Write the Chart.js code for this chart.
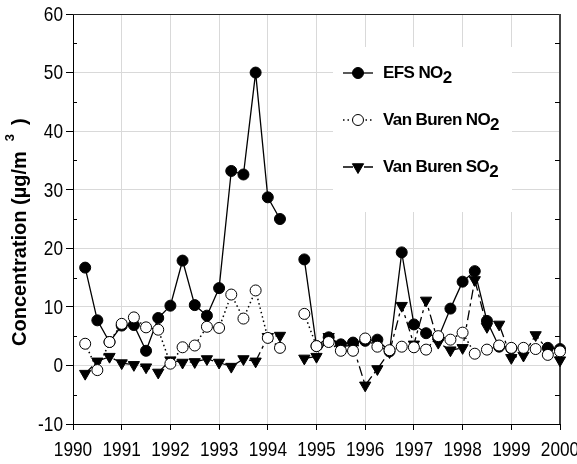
<!DOCTYPE html>
<html>
<head>
<meta charset="utf-8">
<script src="https://cdn.jsdelivr.net/npm/chart.js@4.4.1/dist/chart.umd.min.js"></script>
<style>
  html, body { margin: 0; padding: 0; background: #fff; }
  #wrap { width: 577px; height: 464px; }
</style>
</head>
<body>
<div id="wrap"><canvas id="grafico" width="577" height="464"></canvas></div>
<script>
// datas de amostragem (trimestral) e séries
const anos = [1990.25, 1990.5, 1990.75, 1991, 1991.25, 1991.5, 1991.75, 1992, 1992.25, 1992.5,
  1992.75, 1993, 1993.25, 1993.5, 1993.75, 1994, 1994.25, 1994.5, 1994.75, 1995,
  1995.25, 1995.5, 1995.75, 1996, 1996.25, 1996.5, 1996.75, 1997, 1997.25, 1997.5,
  1997.75, 1998, 1998.25, 1998.5, 1998.75, 1999, 1999.25, 1999.5, 1999.75, 2000]

const efsNO2 = [16.7, 7.7, 4.0, 6.8, 6.9, 2.5, 8.1, 10.2, 17.9, 10.3,
  8.5, 13.2, 33.2, 32.6, 50.0, 28.7, 25.0, null, 18.1, 3.3,
  4.8, 3.6, 3.9, 4.2, 4.4, 2.4, 19.3, 7.0, 5.5, 4.7,
  9.7, 14.3, 16.1, 7.6, 3.2, 2.9, null, null, 3.0, 2.8]

const vanBurenNO2 = [3.7, -0.8, 4.0, 7.1, 8.2, 6.5, 6.1, 0.3, 3.1, 3.4,
  6.6, 6.4, 12.1, 8.0, 12.8, 4.7, 3.0, null, 8.8, 3.3,
  4.0, 2.5, 2.5, 4.6, 3.2, 2.6, 3.2, 3.1, 2.7, 5.0,
  4.4, 5.6, 2.0, 2.7, 3.4, 3.0, 3.0, 2.8, 1.8, 2.4]

const vanBurenSO2 = [-1.4, 0.7, 1.5, 0.4, 0.1, -0.3, -1.2, 0.9, 0.5, 0.6,
  1.1, 0.5, -0.2, 1.1, 0.7, 4.9, 5.1, null, 1.2, 1.5,
  4.9, 3.4, 3.3, -3.4, -0.6, 2.3, 10.2, 3.6, 11.1, 3.9,
  2.6, 3.0, 14.6, 6.6, 7.0, 1.3, 1.7, 5.2, 2.6, 0.9]

const ticksX = [1990, 1991, 1992, 1993, 1994, 1995, 1996, 1997, 1998, 1999, 2000]
const ticksY = [-10, 0, 10, 20, 30, 40, 50, 60]
const ticksYMenores = [-5, 5, 15, 25, 35, 45, 55]

const nomesSeries = ['EFS NO', 'Van Buren NO', 'Van Buren SO']
const subscritos = ['2', '2', '2']

const FONTE = "'Liberation Sans', Arial, sans-serif"
const CINZA_GRADE = '#d9d9d9'
const ESTREITO = 0.82  // fonte dos eixos é meio condensada no original

function pontos(valores) {
  return anos.map((a, i) => ({ x: a, y: valores[i] }))
}

const estilos = [
  { pointStyle: 'circle', radius: 5.5, rotation: 0, fill: '#000', dash: [], width: 1.3 },
  { pointStyle: 'circle', radius: 5.5, rotation: 0, fill: '#fff', dash: [1.5, 3], width: 1.5 },
  { pointStyle: 'triangle', radius: 6.5, rotation: 180, fill: '#000', dash: [10, 4, 3, 4], width: 1.3 }
]

const conjuntos = [efsNO2, vanBurenNO2, vanBurenSO2].map((vals, i) => ({
  label: nomesSeries[i] + subscritos[i],
  data: pontos(vals),
  borderColor: '#000',
  borderWidth: estilos[i].width,
  borderDash: estilos[i].dash,
  backgroundColor: estilos[i].fill,
  pointStyle: estilos[i].pointStyle,
  pointRadius: estilos[i].radius,
  pointRotation: estilos[i].rotation,
  pointBackgroundColor: estilos[i].fill,
  pointBorderColor: '#000',
  pointBorderWidth: 1,
  spanGaps: false,
  tension: 0,
  clip: false,
  order: [2, 1, 3][i]
}))

// texto com compressão horizontal
function textoEstreito(ctx, txt, x, y, align) {
  ctx.save()
  ctx.translate(x, y)
  ctx.scale(ESTREITO, 1)
  ctx.textAlign = align
  ctx.fillText(txt, 0, 0)
  ctx.restore()
}

// moldura, ticks menores, rótulos dos eixos, legenda e título do eixo y
const extras = {
  id: 'extras',
  beforeDatasetsDraw(chart) {
    const { ctx, chartArea: a } = chart
    const y = chart.scales.y
    ctx.save()
    // caixa branca da legenda (tapa a grade)
    ctx.fillStyle = '#fff'
    ctx.fillRect(333, 47, 179, 165)
    // moldura superior e direita
    ctx.strokeStyle = '#222'
    ctx.lineWidth = 1
    ctx.beginPath()
    ctx.moveTo(a.left, a.top + 0.5)
    ctx.lineTo(a.right, a.top + 0.5)
    ctx.stroke()
    ctx.strokeStyle = '#444'
    ctx.lineWidth = 2
    ctx.beginPath()
    ctx.moveTo(a.right, a.top)
    ctx.lineTo(a.right, a.bottom)
    ctx.stroke()
    // ticks menores para dentro
    ctx.strokeStyle = '#000'
    ctx.lineWidth = 1
    ticksYMenores.forEach(v => {
      const py = Math.round(y.getPixelForValue(v)) + 0.5
      ctx.beginPath()
      ctx.moveTo(a.left, py); ctx.lineTo(a.left + 4, py)
      ctx.moveTo(a.right, py); ctx.lineTo(a.right - 5, py)
      ctx.stroke()
    })
    ctx.restore()
  },
  afterDraw(chart) {
    const { ctx, chartArea: a } = chart
    const sx = chart.scales.x
    const sy = chart.scales.y
    ctx.save()
    // rótulos dos ticks
    ctx.fillStyle = '#000'
    ctx.font = '21px ' + FONTE
    ctx.textBaseline = 'middle'
    ticksX.forEach(v => textoEstreito(ctx, String(v), sx.getPixelForValue(v), a.bottom + 26, 'center'))
    ticksY.forEach(v => textoEstreito(ctx, String(v), a.left - 10, sy.getPixelForValue(v) + 1, 'right'))

    // legenda
    const linhas = [73, 120, 167]
    ctx.font = 'bold 17px ' + FONTE
    ctx.letterSpacing = '-0.6px'
    ctx.textBaseline = 'alphabetic'
    ctx.textAlign = 'left'
    linhas.forEach((ly, i) => {
      const e = estilos[i]
      ctx.strokeStyle = '#000'
      ctx.lineWidth = e.width
      ctx.setLineDash(e.dash)
      ctx.beginPath()
      ctx.moveTo(343, ly); ctx.lineTo(373, ly)
      ctx.stroke()
      ctx.setLineDash([])
      ctx.fillStyle = e.fill
      ctx.lineWidth = 1
      Chart.helpers.drawPoint(ctx, { pointStyle: e.pointStyle, radius: e.radius, rotation: e.rotation, borderWidth: 1 }, 358, ly)
      ctx.fillStyle = '#000'
      ctx.fillText(nomesSeries[i], 383, ly + 5)
      const w = ctx.measureText(nomesSeries[i]).width
      ctx.fillText(subscritos[i], 383 + w, ly + 9.5)
    })
    // título do eixo y
    ctx.letterSpacing = '0px'
    ctx.translate(20, 346)
    ctx.rotate(-Math.PI / 2)
    ctx.font = 'bold 20px ' + FONTE
    ctx.textBaseline = 'middle'
    const t1 = 'Concentration (\u00b5g/m'
    ctx.fillText(t1, 0, 0)
    let x = ctx.measureText(t1).width + 10
    ctx.font = 'bold 13px ' + FONTE
    ctx.fillText('3', x, -10)
    x += ctx.measureText('3').width + 9
    ctx.font = 'bold 20px ' + FONTE
    ctx.fillText(')', x, 0)
    ctx.restore()
  }
}

Chart.defaults.font.family = FONTE
Chart.defaults.color = '#000'

new Chart(document.getElementById('grafico'), {
  type: 'line',
  data: { datasets: conjuntos },
  options: {
    responsive: false,
    animation: false,
    devicePixelRatio: 1,
    layout: { padding: { top: 14, right: 17, left: 0, bottom: 0 } },
    plugins: { legend: { display: false }, tooltip: { enabled: false } },
    scales: {
      x: {
        type: 'linear',
        min: 1990,
        max: 2000,
        afterBuildTicks: s => { s.ticks = ticksX.map(v => ({ value: v })) },
        afterFit: s => { s.height = 40 },
        grid: {
          color: c => (c.tick && (c.tick.value === 1990 || c.tick.value === 2000)) ? 'rgba(0,0,0,0)' : CINZA_GRADE,
          tickColor: '#000',
          tickLength: 6,
          lineWidth: 1
        },
        border: { display: true, color: '#000', width: 1 },
        ticks: { display: false }
      },
      y: {
        type: 'linear',
        min: -10,
        max: 60,
        afterBuildTicks: s => { s.ticks = ticksY.map(v => ({ value: v })) },
        afterFit: s => { s.width = 73 },
        grid: {
          color: c => (c.tick && (c.tick.value === -10 || c.tick.value === 60)) ? 'rgba(0,0,0,0)' : CINZA_GRADE,
          tickColor: '#000',
          tickLength: 7,
          lineWidth: 1
        },
        border: { display: true, color: '#000', width: 1 },
        ticks: { display: false }
      }
    }
  },
  plugins: [extras]
})
</script>
</body>
</html>
